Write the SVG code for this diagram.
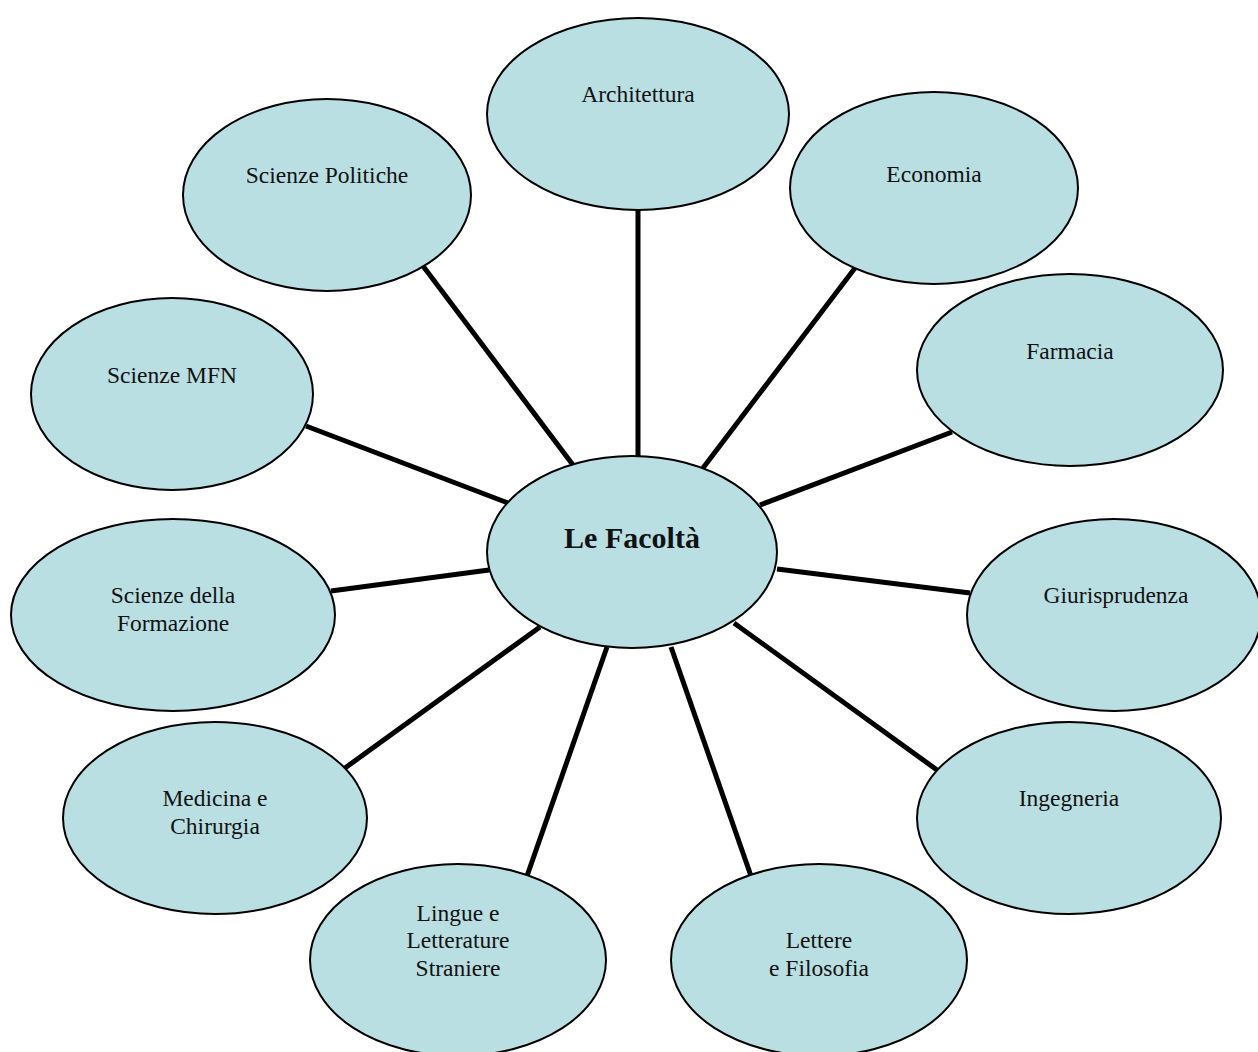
<svg xmlns="http://www.w3.org/2000/svg" width="1258" height="1052" viewBox="0 0 1258 1052">
<style>
.n ellipse{fill:#b9dfe3;stroke:#000;stroke-width:2}
.n text{font-family:"Liberation Serif","Times New Roman",serif;font-size:23.5px;fill:#111;text-anchor:middle}
#center text{font-size:30px;font-weight:bold}
#edges line{stroke:#000;stroke-width:5}
</style>
<rect width="1258" height="1052" fill="#fff"/>
<g id="edges">
<line x1="638" y1="210" x2="638" y2="458"/>
<line x1="855" y1="268" x2="703" y2="468"/>
<line x1="952" y1="432" x2="760" y2="505"/>
<line x1="970" y1="593" x2="777" y2="569"/>
<line x1="937" y1="770" x2="734" y2="623"/>
<line x1="751" y1="876" x2="671" y2="647"/>
<line x1="527" y1="876" x2="607" y2="647"/>
<line x1="345" y1="768" x2="540" y2="627"/>
<line x1="331" y1="591" x2="489" y2="570"/>
<line x1="306" y1="426" x2="508" y2="503"/>
<line x1="423" y1="266" x2="573" y2="465"/>
</g>
<g id="center" class="n"><ellipse cx="632" cy="552" rx="145" ry="96"/><text x="632" y="548">Le Facoltà</text></g>
<g id="architettura" class="n"><ellipse cx="638" cy="114" rx="151" ry="96"/><text x="638" y="102">Architettura</text></g>
<g id="economia" class="n"><ellipse cx="934" cy="188" rx="144" ry="96"/><text x="934" y="182">Economia</text></g>
<g id="farmacia" class="n"><ellipse cx="1070" cy="370" rx="153" ry="96"/><text x="1070" y="359">Farmacia</text></g>
<g id="giurisprudenza" class="n"><ellipse cx="1114" cy="615" rx="147" ry="96"/><text x="1116" y="603">Giurisprudenza</text></g>
<g id="ingegneria" class="n"><ellipse cx="1069" cy="818" rx="152" ry="96"/><text x="1069" y="806">Ingegneria</text></g>
<g id="lettere" class="n"><ellipse cx="819" cy="960" rx="148" ry="96"/><text x="819" y="948">Lettere</text><text x="819" y="976">e Filosofia</text></g>
<g id="lingue" class="n"><ellipse cx="458" cy="960" rx="148" ry="96"/><text x="458" y="921">Lingue e</text><text x="458" y="948">Letterature</text><text x="458" y="976">Straniere</text></g>
<g id="medicina" class="n"><ellipse cx="215" cy="818" rx="152" ry="96"/><text x="215" y="806">Medicina e</text><text x="215" y="834">Chirurgia</text></g>
<g id="formazione" class="n"><ellipse cx="173" cy="615" rx="162" ry="96"/><text x="173" y="603">Scienze della</text><text x="173" y="631">Formazione</text></g>
<g id="mfn" class="n"><ellipse cx="172" cy="394" rx="141" ry="96"/><text x="172" y="383">Scienze MFN</text></g>
<g id="politiche" class="n"><ellipse cx="327" cy="195" rx="144" ry="96"/><text x="327" y="183">Scienze Politiche</text></g>
</svg>
